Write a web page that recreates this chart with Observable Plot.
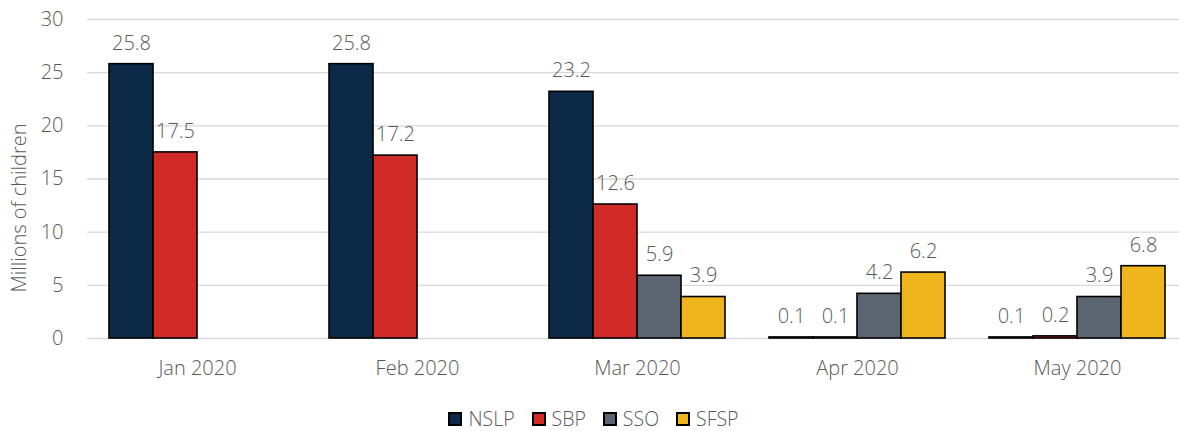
<!DOCTYPE html>
<html><head><meta charset="utf-8">
<script src="https://cdn.jsdelivr.net/npm/d3@7"></script>
<script src="https://cdn.jsdelivr.net/npm/@observablehq/plot@0.6"></script>
<style>
body{margin:0;background:#fff;font-family:"Open Sans",sans-serif;color:#595959;}
#legend{display:flex;justify-content:center;gap:17px;margin-top:9px;font-size:19.5px;line-height:20px;font-weight:300;padding-left:8px;}
#legend .item{display:flex;align-items:center;gap:6px;}
#legend .sw{width:14px;height:14px;box-sizing:border-box;border:2px solid #000;}
</style></head><body><div id="chart"></div><div id="legend"></div><script>
const months = ["Jan 2020","Feb 2020","Mar 2020","Apr 2020","May 2020"];
const series = ["NSLP","SBP","SSO","SFSP"];
const colors = ["#0c2a48","#d12b27","#5b6670","#f0b41d"];
const nslp = [25.8,25.8,23.2,0.1,0.1];
const sbp  = [17.5,17.2,12.6,0.1,0.2];
const sso  = [null,null,5.9,4.2,3.9];
const sfsp = [null,null,3.9,6.2,6.8];
const yTicks = [0,5,10,15,20,25,30];
const yTitle = "Millions of children";

const data = [];
[nslp,sbp,sso,sfsp].forEach((vals,i)=>vals.forEach((v,j)=>{
  if (v != null) data.push({month: months[j], series: series[i], value: v});
}));

const plot = Plot.plot({
  width: 1179, height: 400,
  marginLeft: 87, marginRight: -8, marginTop: 19, marginBottom: 62,
  style: {fontFamily: "Open Sans", fontSize: "20px", fontWeight: 300, color: "#595959", background: "#fff", overflow: "hidden"},
  fx: {domain: months, padding: 0, label: null, axis: "bottom", tickSize: 0, tickPadding: 22, fontSize: 20.5},
  x: {domain: series, padding: 0, paddingOuter: 0.5, axis: null},
  y: {domain: [0,30], ticks: yTicks, tickSize: 0, tickPadding: 24, label: null},
  color: {domain: series, range: colors},
  marks: [
    Plot.gridY(yTicks, {stroke: "#d9d9d9", strokeOpacity: 1, strokeWidth: 1.3}),
    Plot.barY(data, {fx: "month", x: "series", y: "value", fill: "series", stroke: "#000", strokeWidth: 1.6}),
    Plot.text(data, {fx: "month", x: "series", y: "value", text: d => d.value.toFixed(1), dy: -21, fill: "#595959", fontSize: 20}),
    Plot.text([yTitle], {fx: () => months[0], frameAnchor: "left", textAnchor: "middle", rotate: -90, dx: -68, dy: 29, fill: "#595959", fontSize: 20})
  ]
});
document.getElementById("chart").appendChild(plot);

const legend = document.getElementById("legend");
series.forEach((s,i) => {
  const it = document.createElement("div"); it.className = "item";
  const sw = document.createElement("div"); sw.className = "sw"; sw.style.background = colors[i];
  const tx = document.createElement("span"); tx.textContent = s;
  it.appendChild(sw); it.appendChild(tx); legend.appendChild(it);
});
</script></body></html>
